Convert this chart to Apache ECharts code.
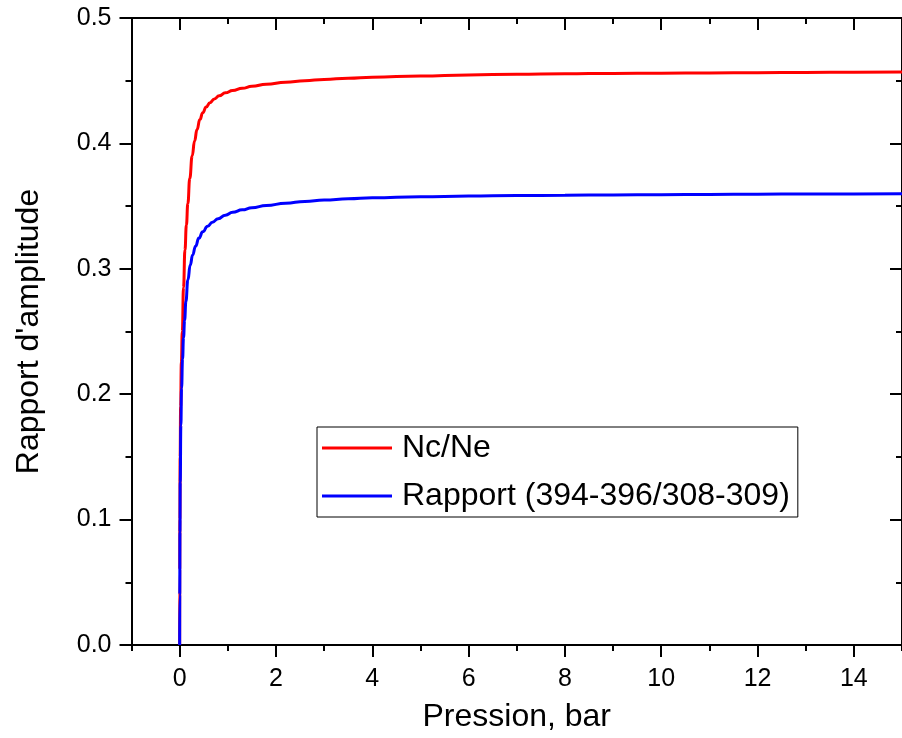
<!DOCTYPE html>
<html>
<head>
<meta charset="utf-8">
<script src="https://cdn.jsdelivr.net/npm/echarts@6/dist/echarts.min.js"></script>
<style>
html,body{margin:0;padding:0;background:#fff;}
#chart{width:902px;height:738px;}
</style>
</head>
<body>
<div id="chart"></div>
<script>
// ---- data ----
const seriesNames = ['Nc/Ne', 'Rapport (394-396/308-309)'];
const ncX = [0, 0.002, 0.005, 0.01, 0.02, 0.035, 0.055, 0.08, 0.11, 0.14, 0.17, 0.21, 0.26, 0.31, 0.36, 0.42, 0.48, 0.55, 0.63, 0.72, 0.82, 0.95, 1.1, 1.3, 1.5, 1.8, 2.2, 2.6, 3, 3.5, 4, 5, 6, 7, 8, 9, 10, 11, 12, 13, 14, 15];
const ncY = [0, 0.06, 0.1, 0.15, 0.19, 0.225, 0.25, 0.285, 0.315, 0.335, 0.352, 0.372, 0.39, 0.402, 0.411, 0.419, 0.4245, 0.429, 0.4325, 0.4355, 0.438, 0.4403, 0.4422, 0.444, 0.4455, 0.4472, 0.4488, 0.45, 0.451, 0.452, 0.4528, 0.4538, 0.4546, 0.4551, 0.4555, 0.4558, 0.456, 0.4562, 0.4564, 0.4566, 0.4568, 0.457];
const rapX = [0, 0.002, 0.006, 0.012, 0.025, 0.04, 0.06, 0.08, 0.103, 0.13, 0.17, 0.22, 0.27, 0.33, 0.4, 0.48, 0.58, 0.68, 0.8, 0.95, 1.1, 1.3, 1.5, 1.8, 2.2, 2.6, 3, 3.5, 4, 5, 6, 7, 8, 9, 10, 11, 12, 13, 14, 15];
const rapY = [0, 0.04, 0.09, 0.13, 0.175, 0.205, 0.228, 0.245, 0.259, 0.274, 0.291, 0.303, 0.311, 0.318, 0.3245, 0.3295, 0.334, 0.3372, 0.34, 0.3428, 0.345, 0.347, 0.3487, 0.3505, 0.3523, 0.3537, 0.3548, 0.3558, 0.3566, 0.3575, 0.358, 0.3584, 0.3587, 0.3589, 0.3591, 0.3593, 0.3595, 0.3596, 0.3597, 0.3598];
const xMajorTicks = [0, 2, 4, 6, 8, 10, 12, 14];
const xMinorTicks = [-1, 1, 3, 5, 7, 9, 11, 13, 15];
const xTitle = 'Pression, bar';
const yTitle = "Rapport d'amplitude";

// ---- chart ----
const FONT = "'Liberation Sans', Arial, sans-serif";
const chart = echarts.init(document.getElementById('chart'), null, {renderer: 'canvas'});
const axLine = {show: true, onZero: false, lineStyle: {color: '#000', width: 2}};
function xAx(pos, opts) {
  return Object.assign({
    type: 'value', position: pos, min: -1, max: 15, interval: 1,
    axisLine: axLine, splitLine: {show: false},
    axisLabel: {show: false}, axisTick: {show: false}
  }, opts);
}
const option = {
  animation: false,
  backgroundColor: '#fff',
  grid: {left: 131.5, top: 18, width: 777, height: 627, containLabel: false},
  legend: {
    orient: 'vertical', left: 317, top: 427,
    icon: 'rect', itemWidth: 70, itemHeight: 3, itemGap: 12,
    backgroundColor: '#fff', borderColor: '#000', borderWidth: 1,
    padding: [3, 8, 3, 5],
    textStyle: {fontFamily: FONT, fontSize: 32, color: '#000', lineHeight: 36, padding: [0, 0, 0, 5]},
    data: seriesNames
  },
  xAxis: [
    xAx('bottom', {
      name: xTitle, nameLocation: 'middle', nameGap: 56,
      nameTextStyle: {fontFamily: FONT, fontSize: 32, color: '#000'},
      axisLabel: {show: true, customValues: xMajorTicks, fontFamily: FONT, fontSize: 25, color: '#000', margin: 22},
      axisTick: {show: true, customValues: xMajorTicks, length: 12, lineStyle: {color: '#000', width: 2}}
    }),
    xAx('bottom', {axisTick: {show: true, customValues: xMinorTicks, length: 6, lineStyle: {color: '#000', width: 2}}}),
    xAx('top', {axisTick: {show: true, inside: true, customValues: xMajorTicks, length: 12, lineStyle: {color: '#000', width: 2}}}),
    xAx('top', {axisTick: {show: true, inside: true, customValues: xMinorTicks, length: 6, lineStyle: {color: '#000', width: 2}}})
  ],
  yAxis: [
    {
      type: 'value', position: 'left', min: 0, max: 0.5, interval: 0.1,
      name: yTitle, nameLocation: 'middle', nameGap: 86, nameRotate: 90,
      nameTextStyle: {fontFamily: FONT, fontSize: 32, color: '#000'},
      axisLine: axLine, splitLine: {show: false},
      axisLabel: {fontFamily: FONT, fontSize: 25, color: '#000', margin: 20, formatter: v => v.toFixed(1)},
      axisTick: {show: true, length: 12, lineStyle: {color: '#000', width: 2}},
      minorTick: {show: true, splitNumber: 2, length: 6, lineStyle: {color: '#000', width: 2}}
    },
    {
      type: 'value', position: 'right', min: 0, max: 0.5, interval: 0.1,
      axisLine: axLine, splitLine: {show: false},
      axisLabel: {show: false},
      axisTick: {show: true, inside: true, length: 12, lineStyle: {color: '#000', width: 2}},
      minorTick: {show: true, splitNumber: 2, length: 6, lineStyle: {color: '#000', width: 2}}
    }
  ],
  series: [
    {
      name: seriesNames[0], type: 'line', xAxisIndex: 0, yAxisIndex: 0,
      data: ncX.map((x, i) => [x, ncY[i]]),
      showSymbol: false, symbol: 'none', smooth: 0.5, smoothMonotone: 'x',
      lineStyle: {color: '#ff0000', width: 3}, itemStyle: {color: '#ff0000'}, z: 3
    },
    {
      name: seriesNames[1], type: 'line', xAxisIndex: 0, yAxisIndex: 0,
      data: rapX.map((x, i) => [x, rapY[i]]),
      showSymbol: false, symbol: 'none', smooth: 0.5, smoothMonotone: 'x',
      lineStyle: {color: '#0000ff', width: 3}, itemStyle: {color: '#0000ff'}, z: 4
    }
  ]
};
chart.setOption(option);
</script>
</body>
</html>
